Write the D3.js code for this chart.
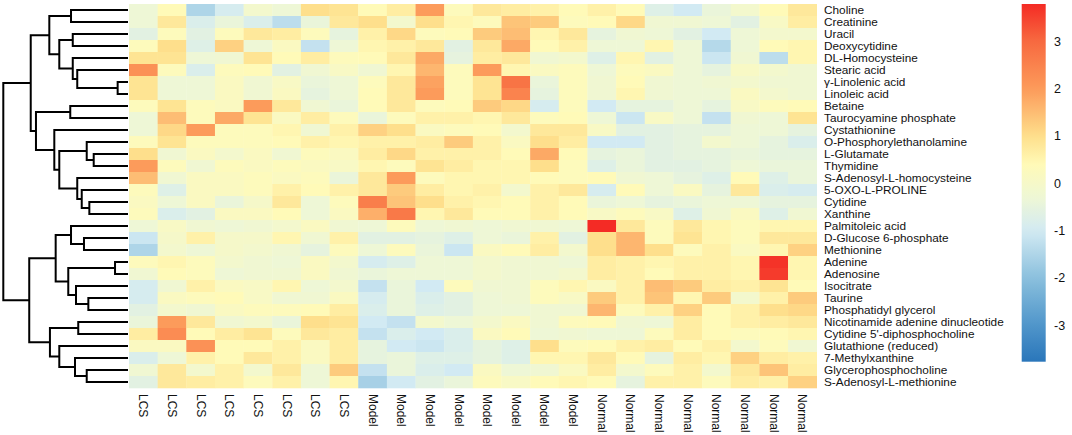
<!DOCTYPE html>
<html>
<head>
<meta charset="utf-8">
<script src="https://cdn.jsdelivr.net/npm/d3@7"></script>
<style>
  body { margin: 0; background: #fff; }
  text { font-family: "Liberation Sans", Arial, sans-serif; fill: #111; }
</style>
</head>
<body>
<div id="chart"></div>
<script>
// row (metabolite) names, top to bottom
var rowNames = [
  "Choline", "Creatinine", "Uracil", "Deoxycytidine", "DL-Homocysteine",
  "Stearic acid", "\u03b3-Linolenic acid", "Linoleic acid", "Betaine",
  "Taurocyamine phosphate", "Cystathionine", "O-Phosphorylethanolamine",
  "L-Glutamate", "Thymidine", "S-Adenosyl-L-homocysteine", "5-OXO-L-PROLINE",
  "Cytidine", "Xanthine", "Palmitoleic acid", "D-Glucose 6-phosphate",
  "Methionine", "Adenine", "Adenosine", "Isocitrate", "Taurine",
  "Phosphatidyl glycerol", "Nicotinamide adenine dinucleotide",
  "Cytidine 5'-diphosphocholine", "Glutathione (reduced)", "7-Methylxanthine",
  "Glycerophosphocholine", "S-Adenosyl-L-methionine"
];

var groups = ["LCS", "Model", "Normal"];
var samplesPerGroup = 8;

// scaled values, one row per metabolite, 8 samples per group
var lcs = [
  [-0.3, 0.4, -1.5, -0.9, -0.1, -0.3, 1.0, 0.9],
  [-0.3, 0.8, -0.8, -0.4, -0.8, -1.3, -0.4, 0.8],
  [-0.6, 0.3, -0.6, 0.3, 0.8, 0.7, 0.3, -0.5],
  [0.3, 1.0, -0.7, 1.2, -0.3, 0.2, -1.2, -0.3],
  [0.9, 0.9, -0.3, -0.2, 0.9, 0.4, 0.7, 0.3],
  [2.2, 0.3, -0.8, 0.3, 0.4, -0.6, -0.2, 0.1],
  [0.9, -0.3, -0.3, 0.2, -0.2, 0.1, -0.4, -0.3],
  [0.9, -0.3, -0.3, 0.2, -0.2, 0.2, -0.5, -0.3],
  [0.3, 0.9, 0.3, 0.2, 2.0, 0.8, -0.2, -0.4],
  [-0.3, 1.5, 0.3, 1.8, 0.9, 0.2, 0.7, 0.3],
  [-0.3, 1.1, 2.0, 0.3, 0.3, 0.5, -0.2, 0.6],
  [0.3, 0.9, 0.3, 0.3, 0.3, 0.4, 0.6, 0.5],
  [1.0, -0.2, 0.2, -0.1, 0.2, -0.2, 0.3, 0.2],
  [2.0, 0.3, -0.2, 0.3, 0.2, 0.3, 0.2, 0.1],
  [1.5, -0.2, 0.2, 0.2, 0.3, 0.2, 0.3, -0.4],
  [0.3, -0.7, 0.2, 0.2, 0.3, 0.6, 0.4, 0.6],
  [0.2, -0.3, 0.2, -0.4, 0.0, 0.8, -0.3, 0.3],
  [0.3, -0.8, -0.6, 0.2, 0.2, 0.4, -0.3, 0.2],
  [-0.3, 0.1, -0.2, -0.3, -0.2, -0.1, 0.2, -0.2],
  [-1.1, 0.0, 0.6, 0.0, 0.0, 0.5, -0.2, 0.6],
  [-1.5, -0.1, -0.3, 0.0, -0.1, -0.2, -0.5, 0.3],
  [0.3, 0.5, 0.3, -0.1, -0.2, -0.3, 0.2, -0.1],
  [-0.2, 0.4, 0.3, -0.3, -0.2, -0.2, 0.2, -0.2],
  [-0.9, -0.2, 0.6, 0.2, 0.1, 0.5, -0.3, -0.1],
  [-0.9, 0.2, 0.3, 0.4, 0.1, -0.2, -0.2, 0.2],
  [-0.6, -0.1, -0.2, 0.2, 0.3, 0.3, 0.4, 0.7],
  [-0.4, 2.0, 0.8, -0.2, -0.1, -0.4, 1.0, 0.9],
  [0.7, 2.3, 0.4, 0.7, 0.9, 0.3, 0.8, 0.7],
  [0.2, 0.2, 2.2, 0.4, 0.4, 0.6, 0.2, 0.7],
  [-0.8, -0.3, 0.6, 0.4, 0.8, 0.6, 0.2, 0.7],
  [-0.2, 0.8, -0.1, 0.6, -0.1, 0.8, -0.3, 1.3],
  [-0.6, 0.8, 0.7, 0.6, 0.3, 0.6, -0.3, 0.5]
];

var model = [
  [0.4, 0.7, 2.0, 0.3, 0.8, 0.7, 0.6, 0.4],
  [1.0, -0.1, 1.0, 0.5, 0.3, 1.4, 1.3, 0.3],
  [0.6, 1.1, 0.3, 0.4, 1.3, 1.5, 0.5, 0.8],
  [0.5, 0.6, 0.8, -0.6, 0.8, 1.8, 0.4, 0.6],
  [0.4, 0.8, 1.8, -0.5, 0.7, 0.8, -0.2, -0.1],
  [-0.2, 0.5, 1.6, 0.3, 2.0, 0.5, 0.2, 0.3],
  [0.3, 0.8, 1.9, 0.3, 0.9, 2.8, -0.4, 0.3],
  [0.4, 0.8, 2.0, 0.3, 0.9, 2.5, -0.5, 0.3],
  [0.4, 0.8, 0.3, 0.4, 1.3, 1.1, -0.9, 0.3],
  [-0.4, 0.3, 0.6, 0.6, 0.5, 0.8, 0.3, 0.4],
  [1.2, 1.0, 0.2, 0.3, 0.4, -0.1, 0.8, 0.8],
  [0.6, 0.6, 0.7, 1.3, 0.6, 0.2, 1.0, 0.7],
  [0.7, 1.1, 0.6, 0.6, 0.6, 0.4, 1.8, 0.4],
  [0.5, 0.3, 0.9, 0.7, 0.5, 0.5, 1.0, 0.3],
  [0.8, 2.0, 0.3, 0.5, 0.5, 0.5, 0.4, 0.3],
  [0.8, 1.3, 0.7, 0.5, 0.6, -0.1, 0.6, 0.8],
  [2.6, 1.4, 1.0, 0.6, 0.5, 0.4, 0.6, 0.4],
  [1.7, 2.7, 0.5, 0.8, 0.4, 0.4, 0.6, 0.4],
  [-0.3, 0.3, -0.3, -0.2, -0.3, -0.2, -0.2, -0.3],
  [-0.6, -0.6, -0.5, -0.7, -0.3, -0.4, 0.6, -0.6],
  [-0.3, 0.3, -0.4, -1.1, 0.2, 0.4, 0.7, -0.1],
  [-0.9, -0.7, -0.3, -0.3, -0.1, -0.2, -0.2, -0.3],
  [-0.4, -0.3, -0.3, -0.3, -0.1, -0.2, -0.2, -0.1],
  [-1.2, -0.4, -1.0, 0.3, -0.2, -0.2, 0.3, 0.5],
  [-0.9, -0.4, -0.8, -0.6, -0.3, -0.2, 0.3, 0.1],
  [-0.8, -0.4, -0.7, -0.6, -0.3, -0.3, -0.2, -0.2],
  [-1.0, -1.2, -0.1, -0.3, -0.1, 0.2, -0.2, 0.3],
  [-1.2, -0.8, -1.0, -0.8, 0.2, 0.4, -0.3, -0.2],
  [-0.5, -1.0, -1.1, -0.8, -0.5, -0.7, 1.0, 0.3],
  [-0.5, -0.4, -0.7, -0.7, -0.5, -0.7, 0.5, 0.5],
  [-1.2, -0.4, -0.8, -1.0, 0.2, -0.3, -0.2, 0.2],
  [-1.6, -1.0, -0.6, -0.4, 0.3, 0.1, 0.4, 0.5]
];

var normal = [
  [0.6, 0.4, -0.7, -1.0, -0.4, -0.1, 0.4, 0.8],
  [0.4, 1.1, -0.2, -0.2, -0.3, -0.6, 0.1, 0.7],
  [-0.5, -0.2, -0.3, -0.6, -1.0, -0.3, -0.1, -0.1],
  [-0.3, -0.3, 0.5, -0.3, -1.4, -0.3, 0.4, 0.5],
  [-0.7, 0.5, -0.6, -0.3, -1.1, -0.2, -1.3, 0.5],
  [-0.3, 0.3, 0.2, -0.3, -0.5, 0.1, -0.1, -0.2],
  [-0.2, 0.4, -0.2, -0.3, -0.2, -0.1, -0.2, -0.2],
  [-0.2, 0.5, -0.2, -0.3, -0.3, 0.2, -0.1, -0.2],
  [-1.0, -0.5, -0.5, -0.3, -0.5, 0.1, 0.3, 0.4],
  [-0.3, -1.1, 0.1, -0.3, -1.2, -0.2, -0.3, 0.9],
  [0.1, -0.6, -0.6, -0.5, -0.5, -0.3, -0.3, -0.5],
  [-1.0, -1.0, -0.6, -0.5, -0.1, -0.3, -0.5, -0.8],
  [-0.5, -0.4, -0.6, -0.5, -0.5, -0.4, -0.5, -0.5],
  [-0.7, -0.4, -0.6, -0.6, -0.5, -0.3, -0.4, -0.4],
  [0.4, -0.2, -0.3, -0.5, -0.7, 0.4, -0.7, -0.4],
  [-0.9, 0.4, -0.3, 0.2, -0.5, 0.8, -0.8, -0.9],
  [-0.4, -0.3, -0.5, -0.4, -0.3, -0.3, -0.5, -0.5],
  [0.1, 0.3, 0.1, -0.7, -0.2, 0.2, -0.7, -0.2],
  [3.8, 0.8, 0.3, 0.8, 0.5, 0.3, 0.5, 0.5],
  [1.0, 1.6, 0.3, 0.9, 0.5, 0.3, 0.8, 0.8],
  [1.0, 1.6, 1.0, 0.3, 0.6, 0.2, 0.5, 1.2],
  [0.7, 0.6, 0.5, 0.6, 0.6, 0.5, 3.7, 0.5],
  [0.7, 0.6, 0.4, 0.6, 0.6, 0.5, 3.6, 0.5],
  [0.2, 0.6, 1.5, 1.3, 0.7, 0.6, 0.9, 0.4],
  [1.3, 0.6, 1.4, 0.5, 1.3, -0.1, 0.6, 1.3],
  [1.6, 0.3, 0.6, 1.2, 0.4, 0.6, 1.0, 1.1],
  [0.4, -0.2, -0.3, 0.7, 0.4, 0.6, 0.7, 0.8],
  [-0.3, -0.3, 0.3, 0.7, 0.4, 0.3, 0.4, 0.5],
  [0.4, 0.6, 0.7, 0.4, 0.6, -0.1, 0.3, -0.2],
  [0.8, 0.4, -0.5, 0.7, 0.5, 1.2, 0.7, 0.6],
  [0.7, -0.1, 0.3, 0.6, -0.1, 0.8, 1.4, 0.7],
  [0.4, -0.5, 0.6, 0.6, 0.3, 0.7, 0.6, 1.2]
];

// row clustering: [height, left, right], leaves are row indices
var rowTree = [10,
  [7.80,
    [6.31, [4.57, 0, 1], [5.51, [4.43, 2, 3], [4.43, 4, [4.07, 5, [0.83, 6, 7]]]]],
    [7.38, [4.63, 8, 9],
      [5.91, 10, [5.51, [3.31, 11, [2.75, 12, 13]], [4.07, 14, [3.71, 15, [3.10, 16, 17]]]]]]],
  [7.92,
    [5.80, [4.57, 18, [3.53, 19, 20]], [4.79, [1.04, 21, 22], [4.17, 23, [3.18, 24, 25]]]],
    [6.26, [3.99, 26, 27], [5.51, 28, [4.25, 29, [3.31, 30, 31]]]]]
];

var legendTicks = [-3, -2, -1, 0, 1, 2, 3];
var colorStops = [-3.76, -3, -2, -1, -0.3, 0.4, 1, 2, 3, 3.8];
var colorHex = ["#2a76ba", "#4f95ca", "#8abfdd", "#d2eaf3", "#eef7d6",
                "#fffab8", "#fedf8c", "#fc9b5b", "#f76a40", "#f42b25"];

// ---------------------------------------------------------------
var W = 1072, H = 435;
var svg = d3.select("#chart").append("svg")
  .attr("width", W).attr("height", H);
svg.append("rect").attr("width", W).attr("height", H).attr("fill", "#fff");

var colNames = [];
groups.forEach(function(g) {
  for (var k = 0; k < samplesPerGroup; k++) colNames.push(g + "_" + k);
});
var groupData = { LCS: lcs, Model: model, Normal: normal };

var cells = [];
rowNames.forEach(function(r, i) {
  groups.forEach(function(g) {
    groupData[g][i].forEach(function(v, k) {
      cells.push({ row: r, col: g + "_" + k, value: v });
    });
  });
});

var x = d3.scaleBand().domain(colNames).range([129, 816.7]);
var y = d3.scaleBand().domain(rowNames).range([4, 388]);
var color = d3.scaleLinear().domain(colorStops).range(colorHex)
  .interpolate(d3.interpolateRgb).clamp(true);

svg.append("g").selectAll("rect")
  .data(cells)
  .join("rect")
  .attr("x", function(d){ return x(d.col); })
  .attr("y", function(d){ return y(d.row); })
  .attr("width", x.bandwidth() + 0.3)
  .attr("height", y.bandwidth() + 0.3)
  .attr("fill", function(d){ return color(d.value); });

// row labels
svg.append("g").selectAll("text")
  .data(rowNames)
  .join("text")
  .attr("x", 824)
  .attr("y", function(d){ return y(d) + y.bandwidth() / 2; })
  .attr("dominant-baseline", "central")
  .style("font-size", "11.8px")
  .text(function(d){ return d; });

// column labels, rotated
svg.append("g").selectAll("text")
  .data(colNames)
  .join("text")
  .attr("transform", function(d){
    return "translate(" + (x(d) + x.bandwidth() / 2) + ",394) rotate(90)";
  })
  .attr("dominant-baseline", "central")
  .style("font-size", "12px")
  .text(function(d){ return d.split("_")[0]; });

// dendrogram
var hx = d3.scaleLinear().domain([0, 10]).range([128, 3.3]);
var dendro = svg.append("g")
  .attr("fill", "none").attr("stroke", "#000").attr("stroke-width", 2);

function drawNode(node) {
  if (typeof node === "number") {
    return { y: y(rowNames[node]) + y.bandwidth() / 2, h: 0 };
  }
  var a = drawNode(node[1]), b = drawNode(node[2]);
  dendro.append("path")
    .attr("d", "M" + hx(a.h) + "," + a.y + "H" + hx(node[0]) +
               "V" + b.y + "H" + hx(b.h));
  return { y: (a.y + b.y) / 2, h: node[0] };
}
drawNode(rowTree);

// colour legend
var lg = svg.append("defs").append("linearGradient")
  .attr("id", "lgrad").attr("x1", 0).attr("y1", 1).attr("x2", 0).attr("y2", 0);
var lo = colorStops[0], hi = colorStops[colorStops.length - 1];
d3.range(0, 41).forEach(function(i) {
  var v = lo + (hi - lo) * i / 40;
  lg.append("stop").attr("offset", (i / 40 * 100) + "%").attr("stop-color", color(v));
});
var ly = d3.scaleLinear().domain([lo, hi]).range([361.7, 4]);
svg.append("rect")
  .attr("x", 1021.7).attr("y", ly(hi))
  .attr("width", 24).attr("height", ly(lo) - ly(hi))
  .attr("fill", "url(#lgrad)");
svg.append("g").selectAll("text")
  .data(legendTicks)
  .join("text")
  .attr("x", 1054)
  .attr("y", function(d){ return ly(d); })
  .attr("dominant-baseline", "central")
  .style("font-size", "12.5px")
  .text(function(d){ return d; });
</script>
</body>
</html>
